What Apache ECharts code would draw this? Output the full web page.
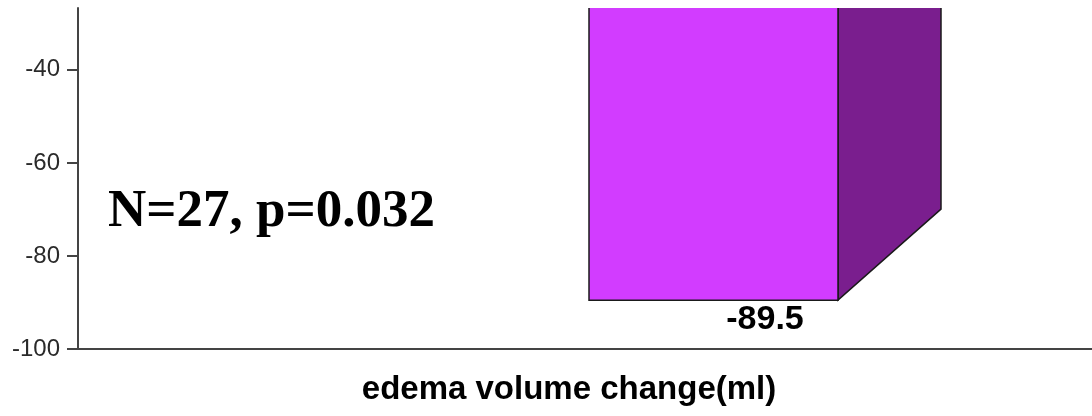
<!DOCTYPE html>
<html>
<head>
<meta charset="utf-8">
<script src="https://cdn.jsdelivr.net/npm/echarts@6/dist/echarts.min.js"></script>
<style>
html,body{margin:0;padding:0;background:#fff;overflow:hidden;width:1092px;height:416px;}
#chart{width:1349px;height:416px;}
</style>
</head>
<body>
<div id="chart"></div>
<script>
const categories = ['edema volume change(ml)'];
const values = [-89.5];
const yTicks = [-100, -80, -60, -40];
const annotation = 'N=27, p=0.032';

const chart = echarts.init(document.getElementById('chart'), null, {renderer: 'canvas'});

const BAR_W = 249, DX = 103, DY = 91;

function renderItem(params, api) {
  const idx = api.value(0);
  const zero = api.coord([idx, 0]);
  const end = api.coord([idx, api.value(1)]);
  const cx = end[0];
  const left = cx - BAR_W / 2, right = cx + BAR_W / 2;
  const topY = zero[1], botY = end[1];
  return {
    type: 'group',
    children: [
      {
        type: 'polygon',
        shape: {points: [[left, topY], [left + DX, topY - DY], [right + DX, topY - DY], [right, topY]]},
        style: {fill: '#e27bff', stroke: '#1a1a1a', lineWidth: 1.5}
      },
      {
        type: 'polygon',
        shape: {points: [[right, topY], [right + DX, topY - DY], [right + DX, botY - DY], [right, botY]]},
        style: {fill: '#7a1e8e', stroke: '#1a1a1a', lineWidth: 1.5}
      },
      {
        type: 'rect',
        shape: {x: left, y: topY, width: BAR_W, height: botY - topY},
        style: {fill: '#d23cff', stroke: '#1a1a1a', lineWidth: 1.5}
      },
      {
        type: 'text',
        style: {
          x: cx + DX / 2, y: botY + 19,
          text: String(api.value(1)),
          fill: '#000', font: 'bold 34px "Liberation Sans", Arial, sans-serif',
          align: 'center', verticalAlign: 'middle'
        }
      }
    ]
  };
}

chart.setOption({
  animation: false,
  backgroundColor: '#fff',
  grid: {left: 78, right: 0, top: 8, bottom: 67, containLabel: false},
  xAxis: {
    type: 'category',
    data: categories,
    axisLine: {show: true, lineStyle: {color: '#444', width: 2}},
    axisTick: {show: false},
    axisLabel: {show: false},
    splitLine: {show: false}
  },
  yAxis: {
    type: 'value',
    min: -100,
    max: -26.7,
    interval: 20,
    axisLine: {show: true, lineStyle: {color: '#444', width: 2}},
    axisTick: {show: true, length: 11, customValues: yTicks, lineStyle: {color: '#444', width: 2}},
    axisLabel: {
      customValues: yTicks,
      fontSize: 24, color: '#2a2a2a', margin: 18,
      fontFamily: '"Liberation Sans", Arial, sans-serif'
    },
    splitLine: {show: false}
  },
  graphic: [
    {
      type: 'text', left: 108, top: 186,
      style: {
        text: annotation,
        font: 'bold 53px "Liberation Serif", "Times New Roman", serif',
        fill: '#000'
      }
    },
    {
      type: 'text', x: 569, y: 390,
      style: {
        text: categories[0],
        font: 'bold 33px "Liberation Sans", Arial, sans-serif',
        fill: '#000', align: 'center', verticalAlign: 'middle'
      }
    }
  ],
  series: [{
    type: 'custom',
    clip: true,
    renderItem: renderItem,
    data: values.map((v, i) => [i, v]),
    encode: {x: 0, y: 1}
  }]
});
</script>
</body>
</html>
